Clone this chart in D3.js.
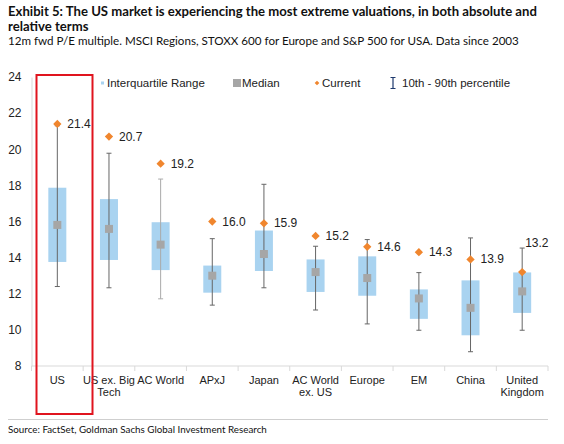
<!DOCTYPE html>
<html>
<head>
<meta charset="utf-8">
<script src="https://cdn.jsdelivr.net/npm/d3@7"></script>
<style>
  body { margin: 0; background: #fff; }
  svg { display: block; }
</style>
</head>
<body>
<script>
// data (12m fwd P/E)
const categories = ["US", "US ex. Big Tech", "AC World", "APxJ", "Japan", "AC World ex. US", "Europe", "EM", "China", "United Kingdom"];
const categoryLines = [["US"], ["US ex. Big", "Tech"], ["AC World"], ["APxJ"], ["Japan"], ["AC World", "ex. US"], ["Europe"], ["EM"], ["China"], ["United", "Kingdom"]];
const p10 = [12.4, 12.33, 11.72, 11.37, 12.33, 11.1, 10.33, 9.98, 8.79, 9.98];
const p90 = [21.3, 19.78, 18.35, 15.05, 18.06, 14.63, 15.0, 13.17, 15.09, 14.53];
const q1 = [13.76, 13.87, 13.31, 12.06, 13.26, 12.1, 11.89, 10.61, 9.7, 10.94];
const q3 = [17.87, 17.24, 15.96, 13.56, 15.5, 13.9, 14.07, 12.24, 12.74, 13.18];
const median = [15.81, 15.59, 14.72, 13.0, 14.2, 13.2, 12.87, 11.74, 11.22, 12.13];
const current = [21.4, 20.7, 19.2, 16.0, 15.9, 15.2, 14.6, 14.3, 13.9, 13.2];
const yTicks = [8, 10, 12, 14, 16, 18, 20, 22, 24];

const W = 564, H = 444;
const margin = {top: 77, right: 16, bottom: 78, left: 31.5};
const width = W - margin.left - margin.right;
const height = H - margin.top - margin.bottom;

const svg = d3.select('body').append('svg')
    .attr('width', W)
    .attr('height', H);

// titles: font size is tuned so each line spans the same width as in the picture
const titleFont = "Lato, 'Noto Sans', sans-serif";
function fitText(sel, target, start) {
    sel.style('font-size', start + 'px');
    const w = sel.node().getComputedTextLength();
    sel.style('font-size', (start * target / w).toFixed(2) + 'px');
    return sel;
}
fitText(svg.append('text').attr('x', 8).attr('y', 16)
    .style('font-family', titleFont).style('font-weight', 'bold')
    .attr('fill', '#111')
    .text('Exhibit 5: The US market is experiencing the most extreme valuations, in both absolute and'), 529, 12);
svg.append('text').attr('x', 8).attr('y', 30.5)
    .style('font-family', titleFont).style('font-weight', 'bold')
    .style('font-size', svg.select('text').style('font-size'))
    .attr('fill', '#111')
    .text('relative terms');
fitText(svg.append('text').attr('x', 8).attr('y', 45)
    .style('font-family', titleFont)
    .attr('fill', '#111')
    .text('12m fwd P/E multiple. MSCI Regions, STOXX 600 for Europe and S&P 500 for USA. Data since 2003'), 511, 11);

const g = svg.append('g')
    .attr('transform', `translate(${margin.left}, ${margin.top})`);

const x = d3.scaleBand()
    .domain(categories)
    .range([0, width]);

const y = d3.scaleLinear()
    .domain([8, 24])
    .range([height, 0]);

const chartFont = "'Liberation Sans', Arial, sans-serif";

// Y axis
const yAxis = g.append('g')
    .call(d3.axisLeft(y).tickValues(yTicks).tickSize(0).tickPadding(10));
yAxis.select('.domain').attr('stroke', '#d9d9d9');
yAxis.selectAll('text').style('font-family', chartFont).style('font-size', '12px').attr('fill', '#222');

// X axis baseline with separators between categories
g.append('line')
    .attr('x1', 0).attr('x2', width)
    .attr('y1', height).attr('y2', height)
    .attr('stroke', '#d9d9d9');
g.selectAll('.sep')
    .data(d3.range(categories.length + 1))
    .enter().append('line')
    .attr('x1', i => i * x.bandwidth()).attr('x2', i => i * x.bandwidth())
    .attr('y1', height).attr('y2', height + 5)
    .attr('stroke', '#d9d9d9');

const cats = g.selectAll('.cat')
    .data(categoryLines)
    .enter().append('text')
    .attr('x', (d, i) => x(categories[i]) + x.bandwidth() / 2)
    .attr('y', height + 18)
    .attr('text-anchor', 'middle')
    .style('font-family', chartFont).style('font-size', '11px')
    .attr('fill', '#222');
cats.selectAll('tspan')
    .data(d => d)
    .enter().append('tspan')
    .attr('x', function () { return d3.select(this.parentNode).attr('x'); })
    .attr('dy', (d, i) => i === 0 ? 0 : 12.3)
    .text(d => d);

const cx = i => x(categories[i]) + x.bandwidth() / 2;
const boxW = 18;

// interquartile boxes
g.selectAll('.iqr')
    .data(categories)
    .enter().append('rect')
    .attr('x', (d, i) => cx(i) - boxW / 2)
    .attr('y', (d, i) => y(q3[i]))
    .attr('width', boxW)
    .attr('height', (d, i) => y(q1[i]) - y(q3[i]))
    .attr('fill', '#a9d3f0');

// 10th - 90th whiskers
g.selectAll('.whisker')
    .data(categories)
    .enter().append('line')
    .attr('x1', (d, i) => cx(i)).attr('x2', (d, i) => cx(i))
    .attr('y1', (d, i) => y(p10[i])).attr('y2', (d, i) => y(p90[i]))
    .attr('stroke', (d, i) => i === 2 ? '#aaaaaa' : '#666')
    .attr('stroke-width', 1);
[p10, p90].forEach((arr, j) => {
    g.selectAll('.cap' + j)
        .data(categories)
        .enter().append('line')
        .attr('x1', (d, i) => cx(i) - 2.5).attr('x2', (d, i) => cx(i) + 2.5)
        .attr('y1', (d, i) => y(arr[i])).attr('y2', (d, i) => y(arr[i]))
        .attr('stroke', (d, i) => i === 2 ? '#aaaaaa' : '#666');
});

// medians
g.selectAll('.median')
    .data(categories)
    .enter().append('rect')
    .attr('x', (d, i) => cx(i) - 4)
    .attr('y', (d, i) => y(median[i]) - 4)
    .attr('width', 8).attr('height', 8)
    .attr('fill', '#a6a6a6');

// current values
const diamond = d3.symbol().type(d3.symbolDiamond2).size(44);
g.selectAll('.current')
    .data(categories)
    .enter().append('path')
    .attr('d', diamond)
    .attr('transform', (d, i) => `translate(${cx(i)}, ${y(current[i])})`)
    .attr('fill', '#f0862e');

g.selectAll('.curLabel')
    .data(categories)
    .enter().append('text')
    .attr('x', (d, i) => i === categories.length - 1 ? cx(i) + 3 : cx(i) + 10)
    .attr('y', (d, i) => i === categories.length - 1 ? y(current[i]) - 25 : y(current[i]) + 4)
    .style('font-family', chartFont).style('font-size', '12px')
    .attr('fill', '#222')
    .text((d, i) => current[i].toFixed(1));

// legend
const leg = svg.append('g').style('font-family', chartFont).style('font-size', '11.5px');
leg.append('rect').attr('x', 101).attr('y', 81.5).attr('width', 3).attr('height', 3).attr('fill', '#a9d3f0');
leg.append('text').attr('x', 107).attr('y', 87).attr('fill', '#222').text('Interquartile Range');
leg.append('rect').attr('x', 233).attr('y', 79).attr('width', 8).attr('height', 8).attr('fill', '#a6a6a6');
leg.append('text').attr('x', 242).attr('y', 87).attr('fill', '#222').text('Median');
leg.append('path').attr('d', d3.symbol().type(d3.symbolDiamond2).size(14)).attr('transform', 'translate(317, 83)').attr('fill', '#f0862e');
leg.append('text').attr('x', 322).attr('y', 87).attr('fill', '#222').text('Current');
leg.append('path').attr('d', 'M390.5,77.5H395.5M393,77.5V88.5M390.5,88.5H395.5').attr('stroke', '#1f3a6e').attr('stroke-width', 1.2).attr('fill', 'none');
leg.append('text').attr('x', 402).attr('y', 87).attr('fill', '#222').text('10th - 90th percentile');

// red highlight around US
svg.append('rect')
    .attr('x', margin.left + x('US') + 5).attr('y', 75)
    .attr('width', 56).attr('height', 339)
    .attr('fill', 'none')
    .attr('stroke', '#e0141e')
    .attr('stroke-width', 2);

// footer
svg.append('line').attr('x1', 8).attr('x2', 548).attr('y1', 419.5).attr('y2', 419.5).attr('stroke', '#cfcfcf');
fitText(svg.append('text').attr('x', 8).attr('y', 433)
    .style('font-family', titleFont)
    .attr('fill', '#111')
    .text('Source: FactSet, Goldman Sachs Global Investment Research'), 259, 9);
</script>
</body>
</html>
